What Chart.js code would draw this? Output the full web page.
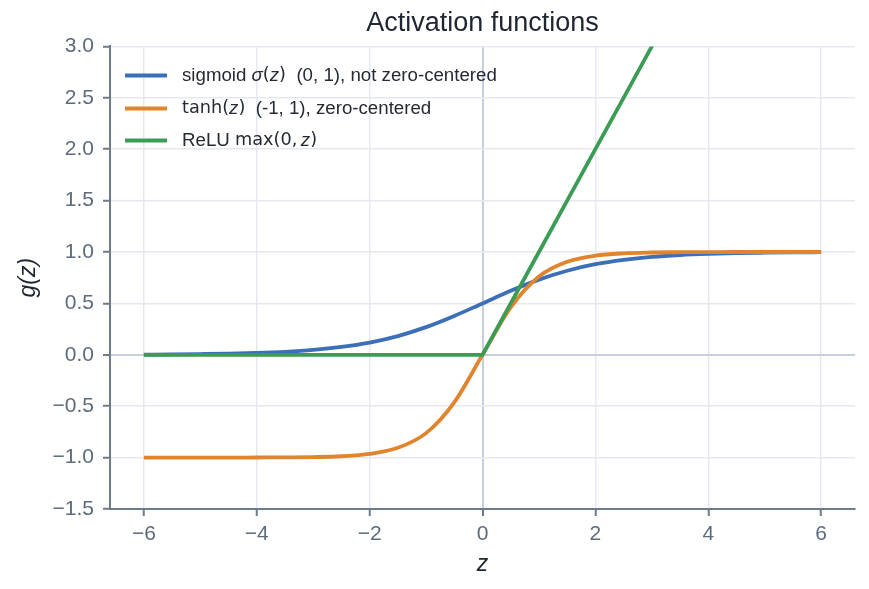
<!DOCTYPE html>
<html>
<head>
<meta charset="utf-8">
<script src="https://cdn.jsdelivr.net/npm/chart.js@4.4.1/dist/chart.umd.min.js"></script>
<style>
  html, body { margin: 0; padding: 0; background: #ffffff; }
  #wrap { width: 869px; height: 589px; }
</style>
</head>
<body>
<div id="wrap"><canvas id="c" width="869" height="589"></canvas></div>
<script>
// ---- data ----
const zValues = [-6, -5.5, -5, -4.5, -4, -3.5, -3, -2.5, -2, -1.5, -1, -0.5, 0,
                 0.5, 1, 1.5, 2, 2.5, 3, 3.5, 4, 4.5, 5, 5.5, 6];
const sigmoidValues = [0.002, 0.004, 0.007, 0.011, 0.018, 0.029, 0.047, 0.076, 0.119, 0.182, 0.269, 0.378, 0.5,
                       0.622, 0.731, 0.818, 0.881, 0.924, 0.953, 0.971, 0.982, 0.989, 0.993, 0.996, 0.998];
const tanhValues = [-1.0, -1.0, -1.0, -1.0, -0.999, -0.998, -0.995, -0.987, -0.964, -0.905, -0.762, -0.462, 0,
                    0.462, 0.762, 0.905, 0.964, 0.987, 0.995, 0.998, 0.999, 1.0, 1.0, 1.0, 1.0];
const reluValues = [0, 0, 0, 0, 0, 0, 0, 0, 0, 0, 0, 0, 0,
                    0.5, 1, 1.5, 2, 2.5, 3, 3.5, 4, 4.5, 5, 5.5, 6];
const seriesNames = ['sigmoid σ(z)  (0, 1), not zero-centered', 'tanh(z)  (-1, 1), zero-centered', 'ReLU max(0, z)'];
const xTickValues = [-6, -4, -2, 0, 2, 4, 6];
const yTickValues = [-1.5, -1.0, -0.5, 0, 0.5, 1.0, 1.5, 2.0, 2.5, 3.0];
// legend text split into runs: [text, style] where style: 'n' plain, 'm' math upright, 'i' math italic
const legendRuns = [
  [['sigmoid ', 'n'], ['σ', 'i'], ['(', 'm'], ['z', 'i'], [')', 'm'], ['  (0, 1), not zero-centered', 'n']],
  [['tanh', 'm'], ['(', 'm'], ['z', 'i'], [')', 'm'], ['  (-1, 1), zero-centered', 'n']],
  [['ReLU ', 'n'], ['max(0,\u2009', 'm'], ['z', 'i'], [')', 'm']]
];

const colors = ['#3b6fb8', '#e0842d', '#3a9c55'];
const FONT = "'Liberation Sans', Arial, Helvetica, sans-serif";
const MATH = "'DejaVu Sans', sans-serif";
const toPts = (ys) => zValues.map((z, i) => ({ x: z, y: ys[i] }));
const fmtMinus = (s) => String(s).replace('-', '\u2212');

const legendPlugin = {
  id: 'mathLegend',
  afterDatasetsDraw(chart) {
    const ctx = chart.ctx;
    const area = chart.chartArea;
    const x0 = area.left + 15, lineW = 42, gap = 15;
    const rowY = [area.top + 29, area.top + 62, area.top + 94];
    ctx.save();
    legendRuns.forEach((runs, i) => {
      const y = rowY[i];
      ctx.strokeStyle = colors[i];
      ctx.lineWidth = 4;
      ctx.lineCap = 'butt';
      ctx.beginPath();
      ctx.moveTo(x0, y);
      ctx.lineTo(x0 + lineW, y);
      ctx.stroke();
      let x = x0 + lineW + gap;
      ctx.fillStyle = '#252b36';
      ctx.textBaseline = 'middle';
      ctx.textAlign = 'left';
      runs.forEach(([t, st]) => {
        if (st === 'n') ctx.font = '18.7px ' + FONT;
        else if (st === 'm') ctx.font = '17.7px ' + MATH;
        else ctx.font = 'italic 18.7px ' + FONT;
        ctx.fillText(t, x, y);
        x += ctx.measureText(t).width;
      });
    });
    ctx.restore();
  }
};

const gridColor = (ctx) => (ctx.tick && ctx.tick.value === 0) ? '#c5d0dc' : '#e5e9ef';
const gridWidth = (ctx) => (ctx.tick && ctx.tick.value === 0) ? 2 : 1.5;

new Chart(document.getElementById('c'), {
  type: 'line',
  data: {
    datasets: [
      { label: seriesNames[0], data: toPts(sigmoidValues), borderColor: colors[0], borderWidth: 3.8,
        pointRadius: 0, cubicInterpolationMode: 'monotone', order: 3 },
      { label: seriesNames[1], data: toPts(tanhValues), borderColor: colors[1], borderWidth: 3.8,
        pointRadius: 0, cubicInterpolationMode: 'monotone', order: 2 },
      { label: seriesNames[2], data: toPts(reluValues), borderColor: colors[2], borderWidth: 3.8,
        pointRadius: 0, tension: 0, order: 1 }
    ]
  },
  options: {
    responsive: false,
    animation: false,
    layout: { padding: { left: 0, right: 14, top: 0, bottom: 0 } },
    plugins: {
      legend: { display: false },
      tooltip: { enabled: false },
      title: {
        display: true,
        text: 'Activation functions',
        fullSize: false,
        color: '#1f2631',
        font: { family: FONT, size: 27, weight: 'normal' },
        padding: { top: 7, bottom: 7 }
      }
    },
    scales: {
      x: {
        type: 'linear',
        min: -6.6, max: 6.6,
        afterBuildTicks: (s) => { s.ticks = xTickValues.map(v => ({ value: v })); },
        afterFit: (s) => { s.height = 80; },
        ticks: { color: '#5d6b7e', font: { family: FONT, size: 21 }, padding: 6,
                 callback: (v) => fmtMinus(v) , maxRotation: 0, autoSkip: false},
        grid: { color: gridColor, lineWidth: gridWidth, drawTicks: true, tickLength: 7,
                tickColor: '#6e7b8b', tickWidth: 2 },
        border: { display: true, color: '#6e7b8b', width: 2 },
        title: { display: true, text: 'z', color: '#1f2631',
                 font: { family: FONT, size: 23, style: 'italic' }, padding: { top: 0, bottom: 11 } }
      },
      y: {
        type: 'linear',
        min: -1.5, max: 3.0,
        afterBuildTicks: (s) => { s.ticks = yTickValues.map(v => ({ value: v })); },
        afterFit: (s) => { s.width = 110; },
        ticks: { color: '#5d6b7e', font: { family: FONT, size: 21 }, padding: 9,
                 callback: (v) => fmtMinus(Number(v).toFixed(1)), autoSkip: false },
        grid: { color: gridColor, lineWidth: gridWidth, drawTicks: true, tickLength: 7,
                tickColor: '#6e7b8b', tickWidth: 2 },
        border: { display: true, color: '#6e7b8b', width: 2 },
        title: { display: true, text: 'g(z)', color: '#1f2631',
                 font: { family: FONT, size: 23, style: 'italic' }, padding: { top: 15, bottom: 0 } }
      }
    }
  },
  plugins: [legendPlugin]
});
</script>
</body>
</html>
